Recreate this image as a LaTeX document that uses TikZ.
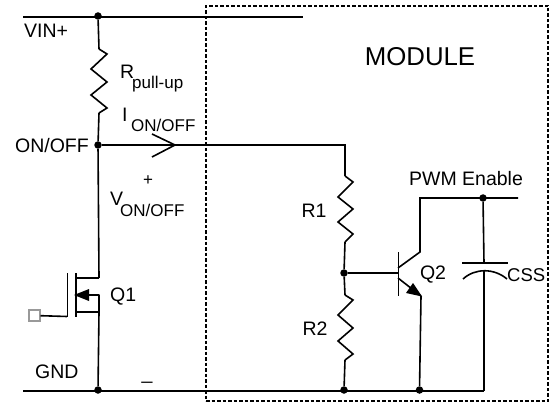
\documentclass[tikz,border=0pt]{standalone}
\usepackage{fontspec}
\setmainfont{Liberation Sans}
\usetikzlibrary{arrows.meta}
\tikzset{
  wire/.style={line width=1.6pt,line join=miter},
  dot/.style={circle,fill=black,inner sep=0pt,minimum size=7.5pt},
  lab/.style={inner sep=0pt,font=\fontsize{19.5}{19.5}\selectfont},
  big/.style={inner sep=0pt,font=\fontsize{25.8}{25.8}\selectfont},
  sub/.style={inner sep=0pt,font=\fontsize{17}{17}\selectfont},
}
\begin{document}
\begin{tikzpicture}[x=1pt,y=-1pt]
\useasboundingbox (0,0) rectangle (553,403);
% module
\node[draw,line width=1.4pt,dash pattern=on 3.5pt off 2pt,minimum width=342pt,minimum height=395pt,inner sep=0pt] (module) at (377,203.5) {};
% junctions
\node[dot] (j1) at (98,16) {};
\node[dot] (j2) at (98,145) {};
\node[dot] (j3) at (98,390) {};
\node[dot] (j4) at (344,273) {};
\node[dot] (j5) at (344,390) {};
\node[dot] (j6) at (419.5,390) {};
\node[dot] (j7) at (483,198) {};
% free coordinates
\coordinate (vl) at (23,17);
\coordinate (vr) at (303,17);
\coordinate (gl) at (23,391);
\coordinate (gr) at (484,391);
\coordinate (rp1) at (99,49);
\coordinate (rp2) at (99,113);
\coordinate (cor) at (345,145);
\coordinate (r1a) at (345,176);
\coordinate (r1b) at (345,242);
\coordinate (r2a) at (345,295);
\coordinate (r2b) at (345,360);
\coordinate (d) at (99,278);
\coordinate (s) at (99,312);
\coordinate (m) at (99,295);
\coordinate (bb) at (398,273);
\coordinate (ce) at (420,252);
\coordinate (em) at (421,296);
\coordinate (pt) at (420,198);
\coordinate (pe) at (518,198);
\coordinate (cp1) at (484,263);
\coordinate (cp2) at (484,271);
\coordinate (cb) at (484,391);
% rails
\draw[wire] (vl) -- (vr);
\draw[wire] (gl) -- (gr);
\draw[wire] (j1) -- (rp1);
\draw[wire] (rp1) -- ++(8,5) -- ++(-16,15) -- ++(16,13) -- ++(-16,13) -- ++(16,13) -- (rp2);
\draw[wire] (rp2) -- (j2);
\draw[wire] (j2) -- (d);
\draw[wire] (s) -- (j3);
\draw[wire] (j2) -- (cor) -- (r1a);
\draw[wire] (r1a) -- ++(8,6) -- ++(-15,15) -- ++(15,12) -- ++(-15,13) -- ++(15,12) -- ++(-8,8);
\draw[wire] (r1b) -- (j4) -- (r2a);
\draw[wire] (r2a) -- ++(8,5) -- ++(-15,15) -- ++(15,13) -- ++(-15,13) -- ++(15,13) -- (r2b);
\draw[wire] (r2b) -- (j5);
\draw[wire] (j4) -- (bb);
% chevron
\coordinate (ct) at (175,145);
\draw[wire] (152,134) -- (ct) -- (152,157);
% Q1
\coordinate (g) at (67,316.5);
\node[draw=gray!80,fill=white,line width=2pt,minimum size=11pt,inner sep=0pt] (gsq) at (34,315.5) {};
\draw[wire] (gsq) -- (g);
\draw[line width=1.6pt] (67.5,273) -- (67.5,317);
\draw[line width=2.2pt] (76,273) -- (76,317);
\draw[wire,line width=2pt] (76,278) -- (d);
\draw[wire,line width=2pt] (76,312) -- (s);
\draw[wire,line join=round,line cap=round] (m) -- (76,295);
\draw[wire] (m) -- (s);
\fill (89,289) -- (74,295) -- (89,301) -- cycle;
% Q2
\draw[line width=1.6pt] (398.5,252) -- (398.5,296);
\draw[wire] (398,268) -- (ce) -- (pt) -- (pe);
\draw[wire] (398,278) -- (em);
\fill (422,296.5) -- (406,293) -- (413,283) -- cycle;
\draw[wire] (em) -- (j6);
% cap
\draw[wire] (j7) -- (cp1);
\draw[line width=1.6pt] (462,263) -- (508,263);
\draw[line width=1.6pt] (463,279) .. controls (475,268) and (494,268) .. (507,279);
\draw[wire] (cp2) -- (cb) -- (gr);
% labels
\node[big] (tm) at (420,57) {MODULE};
\node[lab,anchor=west] (tv) at (24,31) {VIN+};
\node[lab,anchor=west] (tr) at (120,72) {R};
\node[sub,anchor=west] (trs) at (132,84) {pull-up};
\node[lab,anchor=west] (ti) at (122,115) {I};
\node[sub,anchor=west] (tis) at (131,125) {ON/OFF};
\node[lab,anchor=east] (to) at (89,146) {ON/OFF};
\node[sub] (tp) at (148,181) {+};
\node[lab,anchor=west] (tvv) at (110,199) {V};
\node[sub,anchor=west] (tvs) at (120,210) {ON/OFF};
\node[lab,anchor=west] (tq1) at (110,297) {Q1};
\node[lab,anchor=west] (tg) at (35,372) {GND};
\node[lab] (tm2) at (147,381) {\_};
\node[lab] (tr1) at (314,211) {R1};
\node[lab] (tr2) at (315,329) {R2};
\node[lab] (tq2) at (433,275) {Q2};
\node[lab] (tpw) at (466,179) {PWM Enable};
\node[lab,anchor=west,font=\fontsize{18.5}{18.5}\selectfont] (tc) at (507,275) {CSS};
\end{tikzpicture}
\end{document}
